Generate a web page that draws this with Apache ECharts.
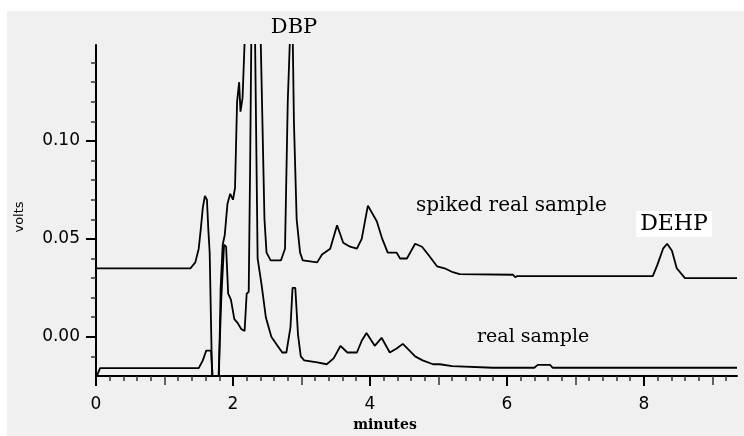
<!DOCTYPE html>
<html>
<head>
<meta charset="utf-8">
<script src="https://cdn.jsdelivr.net/npm/echarts@6/dist/echarts.min.js"></script>
<style>
  html, body { margin: 0; padding: 0; background: #fff; }
  #chart { width: 744px; height: 436px; }
</style>
</head>
<body>
<div id="chart"></div>
<script>
// chromatogram traces, time in minutes, signal in volts
var spikedT = [0, 1.38, 1.45, 1.50, 1.53, 1.56, 1.59, 1.62, 1.64, 1.66, 1.70, 1.79, 1.82, 1.85, 1.88, 1.92,
  1.96, 2.00, 2.03, 2.06, 2.09, 2.11, 2.14, 2.18, 2.40, 2.43, 2.46, 2.49, 2.55, 2.70, 2.76, 2.80, 2.84,
  2.87, 2.89, 2.93, 2.98, 3.02, 3.23, 3.30, 3.42, 3.52, 3.61, 3.71, 3.81, 3.88, 3.97, 4.10, 4.18, 4.26,
  4.39, 4.44, 4.54, 4.66, 4.76, 4.85, 4.98, 5.09, 5.21, 5.31, 6.09, 6.12, 6.15, 7.80, 8.13, 8.20, 8.28,
  8.34, 8.41, 8.48, 8.60, 9.36];
var spikedV = [0.035, 0.035, 0.038, 0.045, 0.055, 0.066, 0.072, 0.070, 0.055, 0.043, -0.03, -0.03, 0.025,
  0.047, 0.052, 0.068, 0.073, 0.070, 0.076, 0.120, 0.130, 0.115, 0.122, 0.16, 0.16, 0.110, 0.060, 0.043,
  0.039, 0.039, 0.045, 0.120, 0.16, 0.16, 0.110, 0.060, 0.043, 0.039, 0.038, 0.042, 0.045, 0.057, 0.048,
  0.046, 0.045, 0.050, 0.067, 0.059, 0.050, 0.043, 0.043, 0.040, 0.040, 0.0475, 0.046, 0.042, 0.036,
  0.035, 0.033, 0.032, 0.0317, 0.0305, 0.031, 0.031, 0.031, 0.037, 0.045, 0.0475, 0.044, 0.035, 0.030,
  0.030];

var realT = [0, 0.06, 1.50, 1.56, 1.61, 1.68, 1.72, 1.78, 1.83, 1.87, 1.90, 1.93, 1.97, 2.02, 2.07, 2.12,
  2.17, 2.20, 2.23, 2.25, 2.27, 2.32, 2.36, 2.42, 2.48, 2.56, 2.64, 2.72, 2.78, 2.84, 2.87, 2.91, 2.95,
  2.99, 3.04, 3.23, 3.37, 3.47, 3.57, 3.67, 3.81, 3.88, 3.95, 4.07, 4.17, 4.29, 4.39, 4.48, 4.55, 4.66,
  4.77, 4.92, 5.02, 5.20, 5.80, 6.40, 6.45, 6.63, 6.67, 9.36];
var realV = [-0.021, -0.016, -0.016, -0.012, -0.007, -0.007, -0.03, -0.03, 0.020, 0.047, 0.046, 0.022,
  0.019, 0.009, 0.007, 0.004, 0.003, 0.022, 0.023, 0.085, 0.16, 0.16, 0.040, 0.026, 0.010, 0.000, -0.004,
  -0.008, -0.008, 0.005, 0.025, 0.025, 0.001, -0.010, -0.012, -0.013, -0.014, -0.011, -0.0046, -0.008,
  -0.008, -0.002, 0.002, -0.0046, -0.0005, -0.008, -0.006, -0.0036, -0.006, -0.010, -0.012, -0.014,
  -0.014, -0.015, -0.0158, -0.0158, -0.0143, -0.0143, -0.0158, -0.0158];

// axis ticks
var xMajor = [0, 2, 4, 6, 8];
var xMid = [1, 3, 5, 7, 9];
var xMinor = [];
for (var i = 1; i <= 46; i++) {
  if (i % 5 !== 0) xMinor.push(+(i * 0.2).toFixed(1));
}
var yMajor = [0, 0.05, 0.10];
var yMinor = [-0.01, 0.01, 0.02, 0.03, 0.04, 0.06, 0.07, 0.08, 0.09, 0.11, 0.12, 0.13, 0.14];

function pairs(ts, vs) {
  return ts.map(function (t, k) { return [t, vs[k]]; });
}

var chart = echarts.init(document.getElementById('chart'));
var serif = '"DejaVu Serif", serif';
var sans = '"DejaVu Sans", sans-serif';

var xBase = {
  type: 'value', min: 0, max: 9.36, position: 'bottom',
  splitLine: { show: false }, axisLine: { show: false, onZero: false },
  axisLabel: { show: false }
};
var yBase = {
  type: 'value', min: -0.02, max: 0.149, position: 'left',
  splitLine: { show: false }, axisLine: { show: false, onZero: false },
  axisLabel: { show: false }
};

chart.setOption({
  backgroundColor: '#f0f0f0',
  animation: false,
  grid: { left: 96, right: 7, top: 45, bottom: 60 },
  xAxis: [
    Object.assign({}, xBase, {
      axisLine: { show: true, onZero: false, lineStyle: { color: '#000', width: 2 } },
      axisTick: { length: 10, customValues: xMajor, lineStyle: { color: '#000', width: 2 } },
      axisLabel: {
        show: true, customValues: xMajor, margin: 20, color: '#000',
        fontFamily: sans, fontSize: 17
      }
    }),
    Object.assign({}, xBase, {
      axisTick: { length: 9, customValues: xMid, lineStyle: { color: '#333', width: 1.5 } }
    }),
    Object.assign({}, xBase, {
      axisTick: { length: 5, customValues: xMinor, lineStyle: { color: '#333', width: 1.5 } }
    })
  ],
  yAxis: [
    Object.assign({}, yBase, {
      axisLine: { show: true, onZero: false, lineStyle: { color: '#000', width: 2 } },
      axisTick: { length: 10, customValues: yMajor, lineStyle: { color: '#000', width: 2 } },
      axisLabel: {
        show: true, customValues: yMajor, margin: 16, color: '#000',
        fontFamily: sans, fontSize: 17,
        formatter: function (v) { return v.toFixed(2); }
      }
    }),
    Object.assign({}, yBase, {
      axisTick: { length: 5, customValues: yMinor, lineStyle: { color: '#333', width: 1.5 } }
    })
  ],
  series: [
    {
      name: 'spiked real sample', type: 'line', data: pairs(spikedT, spikedV),
      showSymbol: false, lineStyle: { color: '#000', width: 1.8 }, clip: true
    },
    {
      name: 'real sample', type: 'line', data: pairs(realT, realV),
      showSymbol: false, lineStyle: { color: '#000', width: 1.8 }, clip: true
    }
  ],
  graphic: [
    { type: 'rect', shape: { x: 0, y: 0, width: 744, height: 11 }, style: { fill: '#fff' }, silent: true },
    { type: 'rect', shape: { x: 0, y: 0, width: 7, height: 436 }, style: { fill: '#fff' }, silent: true },
    {
      type: 'text', x: 294, y: 28,
      style: { text: 'DBP', font: '21px ' + serif, fill: '#000', align: 'center', verticalAlign: 'middle' }
    },
    {
      type: 'text', x: 416, y: 206,
      style: { text: 'spiked real sample', font: '20px ' + serif, fill: '#000', align: 'left', verticalAlign: 'middle' }
    },
    {
      type: 'text', x: 477, y: 337,
      style: { text: 'real sample', font: '19px ' + serif, fill: '#000', align: 'left', verticalAlign: 'middle' }
    },
    {
      type: 'text', x: 674, y: 224, z: 10,
      style: {
        text: 'DEHP', font: '22px ' + serif, fill: '#000', align: 'center', verticalAlign: 'middle',
        backgroundColor: '#fff', padding: [3, 4, 1, 4]
      }
    },
    {
      type: 'text', x: 20, y: 217, rotation: Math.PI / 2,
      style: { text: 'volts', font: '13px ' + sans, fill: '#000', align: 'center', verticalAlign: 'middle' }
    },
    {
      type: 'text', x: 385, y: 425,
      style: { text: 'minutes', font: 'bold 14px ' + serif, fill: '#000', align: 'center', verticalAlign: 'middle' }
    }
  ]
});
</script>
</body>
</html>
